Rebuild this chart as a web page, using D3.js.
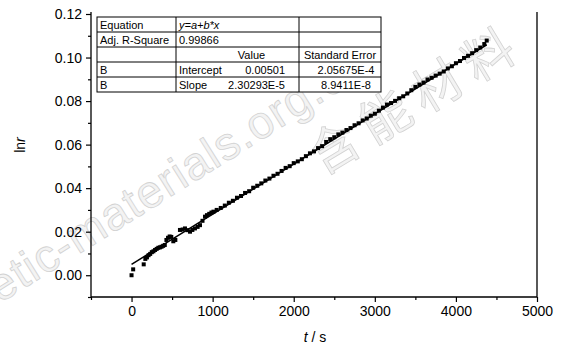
<!DOCTYPE html>
<html>
<head>
<meta charset="utf-8">
<script src="https://cdn.jsdelivr.net/npm/d3@7"></script>
<style>
  body { margin: 0; background: #fff; }
  svg { font-family: "Liberation Sans", Arial, sans-serif; }
  .axis path, .axis line { stroke: #000; stroke-width: 1.2; }
  .axis text { font-size: 14px; fill: #000; }
</style>
</head>
<body>
<div class="chart"></div>
<script>
var svgWidth = 564
var svgHeight = 346

// measured points: time (s) and ln r
var tValues = [0, 20, 150, 170, 190, 210, 230, 250, 270, 290, 310, 330, 350, 370, 390, 410, 430, 450, 470, 490,
    515, 540, 597, 630, 659, 690, 721, 750, 782, 815, 844, 875, 906, 930, 958, 985, 1010,
    1050, 1100, 1150, 1200, 1250, 1300, 1350, 1400, 1450, 1500, 1550, 1600, 1650, 1700, 1750, 1800, 1850, 1900, 1950,
    2000, 2050, 2100, 2150, 2200, 2250, 2300, 2350, 2400, 2450, 2500, 2550, 2600, 2650, 2700, 2750, 2800, 2850, 2900, 2950,
    3000, 3050, 3100, 3150, 3200, 3250, 3300, 3350, 3400, 3450, 3500, 3550, 3600, 3650, 3700, 3750, 3800, 3850, 3900, 3950,
    4000, 4050, 4100, 4150, 4200, 4250, 4300, 4350, 4380];
var lnrValues = [0.0000, 0.0027, 0.0050, 0.0075, 0.0082, 0.0092, 0.0098, 0.0106, 0.0110, 0.0116, 0.0121, 0.0126, 0.0128, 0.0131, 0.0135, 0.0139, 0.0162, 0.0172, 0.0178, 0.0176,
    0.0156, 0.0162, 0.0208, 0.0210, 0.0215, 0.0207, 0.0200, 0.0208, 0.0215, 0.0222, 0.0230, 0.0250, 0.0269, 0.0276, 0.0282, 0.0288, 0.0292,
    0.0300, 0.0309, 0.0320, 0.0333, 0.0342, 0.0356, 0.0364, 0.0378, 0.0386, 0.0402, 0.0411, 0.0422, 0.0435, 0.0444, 0.0457, 0.0466, 0.0479, 0.0493, 0.0501,
    0.0515, 0.0523, 0.0533, 0.0547, 0.0560, 0.0569, 0.0584, 0.0593, 0.0612, 0.0625, 0.0634, 0.0647, 0.0655, 0.0667, 0.0676, 0.0689, 0.0698, 0.0711, 0.0720, 0.0733,
    0.0742, 0.0756, 0.0770, 0.0784, 0.0791, 0.0801, 0.0813, 0.0822, 0.0835, 0.0850, 0.0865, 0.0876, 0.0885, 0.0899, 0.0907, 0.0917, 0.0926, 0.0936, 0.0950, 0.0960,
    0.0974, 0.0984, 0.0998, 0.1008, 0.1020, 0.1034, 0.1046, 0.1062, 0.1078];

// linear fit y = a + b*x
var fitIntercept = 0.00501;
var fitSlope = 2.30293E-5;

var xTicks = [0, 1000, 2000, 3000, 4000, 5000];
var xMinorTicks = [-500, 500, 1500, 2500, 3500, 4500];
var yTicks = [0.00, 0.02, 0.04, 0.06, 0.08, 0.10, 0.12];
var yMinorTicks = [-0.01, 0.01, 0.03, 0.05, 0.07, 0.09, 0.11];

var tableRows = [
    ["Equation", "y=a+b*x", "", ""],
    ["Adj. R-Square", "0.99866", "", ""],
    ["", "Value", "", "Standard Error"],
    ["B", "Intercept", "0.00501", "2.05675E-4"],
    ["B", "Slope", "2.30293E-5", "8.9411E-8"]
];

var plotLeft = 91, plotRight = 537, plotTop = 13, plotBottom = 297;

var svg = d3.select(".chart")
    .append("svg")
    .attr("width", svgWidth)
    .attr("height", svgHeight);

// watermark
var wm = svg.append("g").attr("fill", "#f3f3f3").attr("stroke", "#d2d2d2").attr("stroke-width", 0.8);
wm.append("text")
    .attr("transform", "translate(-105,369) rotate(-32)")
    .attr("font-size", 46)
    .attr("textLength", 560)
    .text("energetic-materials.org.cn");
wm.append("text")
    .attr("transform", "translate(322,176) rotate(-31)")
    .attr("font-family", "Noto Sans CJK SC")
    .attr("font-size", 50)
    .attr("letter-spacing", 10)
    .text("含能材料");

var x = d3.scaleLinear().domain([-500, 5000]).range([plotLeft, plotRight]);
var y = d3.scaleLinear().domain([-0.01, 0.12]).range([plotBottom, plotTop + 1]);

// axes
var xAxis = svg.append("g")
    .attr("class", "axis")
    .attr("transform", `translate(0, ${plotBottom})`)
    .call(d3.axisBottom(x).tickValues(xTicks).tickSize(5).tickSizeOuter(0).tickPadding(4).tickFormat(d3.format("d")));
xAxis.select(".domain").remove();
svg.append("g")
    .attr("class", "axis")
    .attr("transform", `translate(0, ${plotBottom})`)
    .call(d3.axisBottom(x).tickValues(xMinorTicks).tickSize(3).tickSizeOuter(0).tickFormat(""))
    .select(".domain").remove();

var yAxis = svg.append("g")
    .attr("class", "axis")
    .attr("transform", `translate(${plotLeft}, 0)`)
    .call(d3.axisLeft(y).tickValues(yTicks).tickSize(5).tickSizeOuter(0).tickPadding(4).tickFormat(d3.format(".2f")));
yAxis.select(".domain").remove();
svg.append("g")
    .attr("class", "axis")
    .attr("transform", `translate(${plotLeft}, 0)`)
    .call(d3.axisLeft(y).tickValues(yMinorTicks).tickSize(3).tickSizeOuter(0).tickFormat(""))
    .select(".domain").remove();

// frame: left, bottom, right
svg.append("path")
    .attr("d", `M${plotLeft},${plotTop - 1}V${plotBottom}H${plotRight}V${plotTop - 1}`)
    .attr("fill", "none")
    .attr("stroke", "#000")
    .attr("stroke-width", 1.3);

// axis titles
svg.append("text")
    .attr("x", 315)
    .attr("y", 342)
    .attr("text-anchor", "middle")
    .attr("font-size", 14)
    .html('<tspan font-style="italic">t</tspan> / s');

svg.append("text")
    .attr("transform", "translate(25,145) rotate(-90)")
    .attr("text-anchor", "middle")
    .attr("font-size", 14)
    .html('ln<tspan font-style="italic">r</tspan>');

// fit line
var tExtent = d3.extent(tValues);
svg.append("line")
    .attr("x1", x(tExtent[0]))
    .attr("y1", y(fitIntercept + fitSlope * tExtent[0]))
    .attr("x2", x(tExtent[1]))
    .attr("y2", y(fitIntercept + fitSlope * tExtent[1]))
    .attr("stroke", "#000")
    .attr("stroke-width", 1.5);

// points
svg.append("g").selectAll("rect")
    .data(tValues)
    .enter()
    .append("rect")
    .attr("x", (d, i) => x(d) - 2)
    .attr("y", (d, i) => y(lnrValues[i]) - 2)
    .attr("width", 4)
    .attr("height", 4)
    .attr("fill", "#000");

// results table
var colX = [97, 176, 299, 381];
var rowY0 = 17, rowH = 15;
var table = svg.append("g").attr("font-size", 11);
table.append("rect")
    .attr("x", colX[0]).attr("y", rowY0)
    .attr("width", colX[3] - colX[0]).attr("height", rowH * tableRows.length)
    .attr("fill", "#fff").attr("stroke", "#000").attr("stroke-width", 1);
tableRows.forEach(function(row, i) {
    var ty = rowY0 + i * rowH;
    if (i > 0) {
        table.append("line").attr("x1", colX[0]).attr("x2", colX[3]).attr("y1", ty).attr("y2", ty).attr("stroke", "#000");
    }
    table.append("line").attr("x1", colX[1]).attr("x2", colX[1]).attr("y1", ty).attr("y2", ty + rowH).attr("stroke", "#000");
    table.append("line").attr("x1", colX[2]).attr("x2", colX[2]).attr("y1", ty).attr("y2", ty + rowH).attr("stroke", "#000");
    var base = ty + 11.5;
    table.append("text").attr("x", colX[0] + 3).attr("y", base).text(row[0]);
    if (i == 2) {
        table.append("text").attr("x", (colX[1] + colX[2]) / 2 + 14).attr("y", base).attr("text-anchor", "middle").text(row[1]);
    } else {
        table.append("text").attr("x", colX[1] + 3).attr("y", base)
            .attr("font-style", i == 0 ? "italic" : null).text(row[1]);
    }
    table.append("text").attr("x", colX[2] - 14).attr("y", base).attr("text-anchor", "end").text(row[2]);
    table.append("text").attr("x", (colX[2] + colX[3]) / 2 + (i == 2 ? 0 : 6)).attr("y", base).attr("text-anchor", "middle").text(row[3]);
});
</script>
</body>
</html>
